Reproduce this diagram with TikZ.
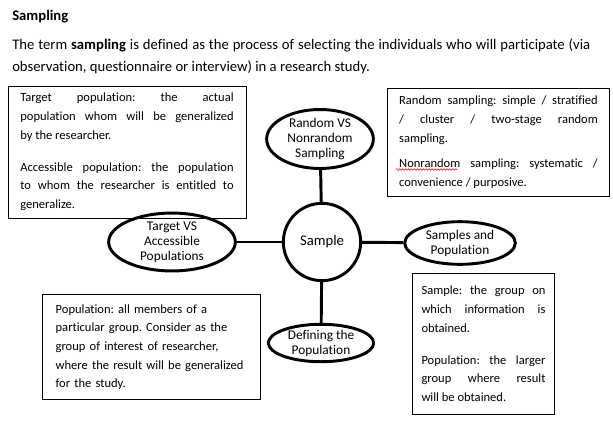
\documentclass[tikz,border=0pt]{standalone}
\usepackage{fontspec}
\setmainfont{Carlito}[Ligatures=NoCommon]
\usepackage{tikz}
\usetikzlibrary{positioning,shapes.geometric,decorations.pathmorphing}

\tikzset{
  topic/.style={ellipse, draw, line width=2.2pt, align=center, inner sep=0pt,
    font=\fontsize{10}{11.3}\selectfont},
  note/.style={draw, line width=0.6pt, inner sep=0pt,
    font=\fontsize{9.4}{14}\selectfont},
  link/.style={line width=2.2pt},
  spellwave/.style={red, line width=0.4pt, decorate,
    decoration={snake, segment length=2.2pt, amplitude=0.6pt}},
}

\begin{document}
\frenchspacing
\begin{tikzpicture}[x=0.75pt,y=-0.75pt]

  \useasboundingbox (0,0) rectangle (613,428);

  % heading and intro
  \node[anchor=west, inner sep=0pt, font=\bfseries\fontsize{11}{13}\selectfont] (title) at (12,17) {Sampling};
  \node[anchor=north west, inner sep=0pt, text width=433.5pt, align=justify, font=\fontsize{11}{16.5}\selectfont] (intro) at (12,39)
    {The term \textbf{sampling} is defined as the process of selecting the individuals who will participate (via\linebreak
     observation, questionnaire or interview) in a research study.};

  % centre and topics
  \node[circle, draw, line width=2.2pt, minimum size=58pt, inner sep=0pt,
    font=\fontsize{11}{13}\selectfont] (sample) at (322,242) {Sample};
  \node[topic, minimum width=80pt, minimum height=37pt] (random) at (320,139) {Random VS\\Nonrandom\\Sampling};
  \node[topic, minimum width=95pt, minimum height=34pt] (target) at (172,242) {Target VS\\Accessible\\Populations};
  \node[topic, minimum width=83pt, minimum height=32pt] (samples) at (460,243) {Samples and\\Population};
  \node[topic, minimum width=79pt, minimum height=28pt] (define) at (321,343) {Defining the\\Population};

  \draw[link] (sample) -- (random);
  \draw[link] (sample) -- (target);
  \draw[link] (sample) -- (samples);
  \draw[link] (sample) -- (define);

  % notes
  \node[note, minimum width=178.5pt, minimum height=99pt, text width=160pt, align=justify] (targetnote) at (127,152)
    {Target population: the actual\linebreak population whom will be generalized\linebreak by the researcher.\par\vspace{10pt}
     Accessible population: the population\linebreak to whom the researcher is entitled to\linebreak generalize.};
  \node[note, minimum width=167pt, minimum height=81pt, text width=149pt, align=justify] (randomnote) at (498.5,142)
    {Random sampling: simple / stratified\linebreak / cluster / two-stage random\linebreak sampling.\par\vspace{5pt}
     Nonrandom sampling: systematic /\linebreak convenience / purposive.};
  \node[note, minimum width=163.5pt, minimum height=79pt, text width=143pt, align=left] (popnote) at (151,347)
    {Population: all members of a\\particular group. Consider as the\\group of interest of researcher,\\where the result will be generalized\\for the study.};
  \node[note, minimum width=107pt, minimum height=106pt, text width=93pt, align=justify] (samplenote) at (483.5,344)
    {Sample: the group on\linebreak which information is\linebreak obtained.\par\vspace{10pt}
     Population: the larger\linebreak group where result\linebreak will be obtained.};

  % spell-check mark under "Nonrandom"
  \draw[spellwave] (396,169.5) -- (457,169.5);

\end{tikzpicture}
\end{document}
